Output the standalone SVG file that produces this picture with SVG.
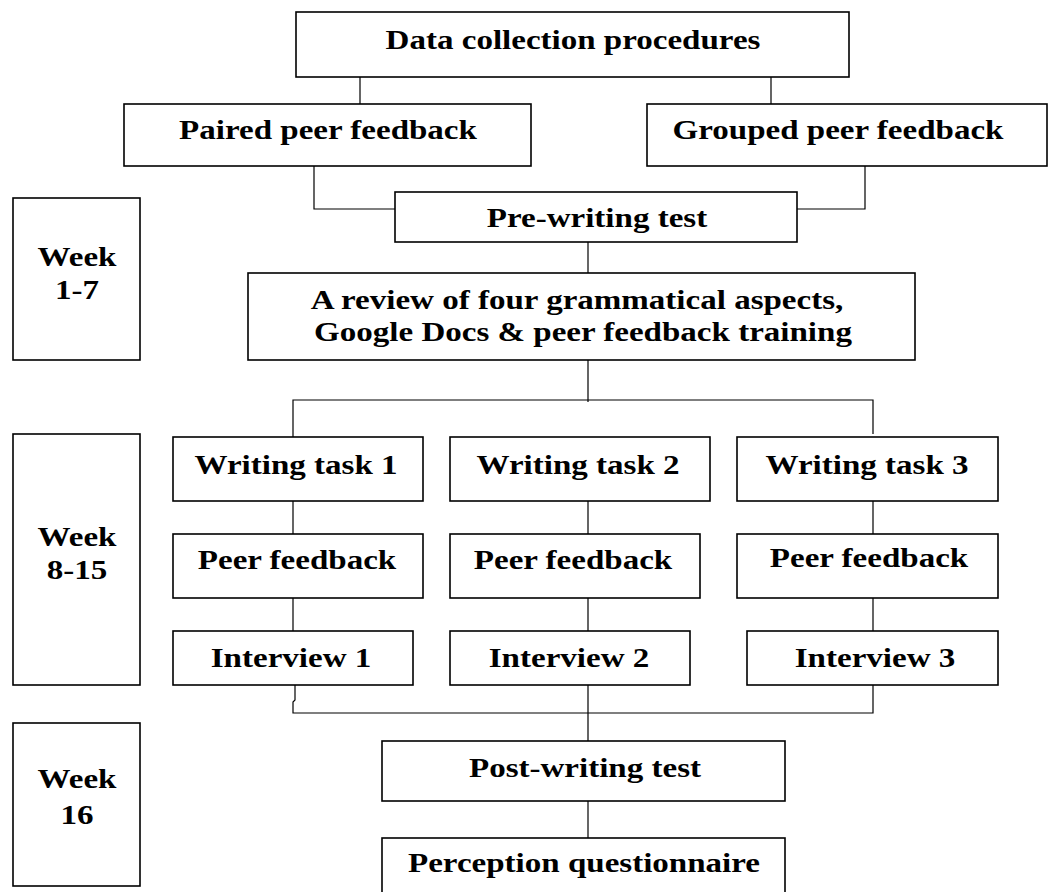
<svg xmlns="http://www.w3.org/2000/svg" width="1048" height="892" viewBox="0 0 1048 892">
<style>
rect{fill:#fff;stroke:#000;stroke-width:1.6}
text{font-family:"Liberation Serif","Times New Roman",serif;font-weight:bold;font-size:28px;text-anchor:middle;fill:#000}
.c path{fill:none;stroke:#000;stroke-width:1.2}
</style>
<rect x="0" y="0" width="1048" height="892" style="stroke:none"/>
<g class="c" id="connectors">
<path d="M360 77V104M771 77V104"/>
<path d="M314 166V209H395M865 166V209H797"/>
<path d="M588 242V273"/>
<path d="M588 360V402M293 437V400H873V434"/>
<path d="M293 501V534M588 501V534M873 501V534"/>
<path d="M293 598V631M588 598V631M873 598V631"/>
<path d="M295 685V700L293 702V713H873V685M588 685V741"/>
<path d="M588 801V838"/>
</g>
<g id="n-data"><rect x="296" y="12" width="553" height="65"/><text transform="translate(573 49) scale(1.18 1)">Data collection procedures</text></g>
<g id="n-paired"><rect x="124" y="104" width="407" height="62"/><text transform="translate(328 139) scale(1.18 1)">Paired peer feedback</text></g>
<g id="n-grouped"><rect x="647" y="104" width="400" height="62"/><text transform="translate(838 139) scale(1.18 1)">Grouped peer feedback</text></g>
<g id="n-pre"><rect x="395" y="192" width="402" height="50"/><text transform="translate(597 227) scale(1.18 1)">Pre-writing test</text></g>
<g id="n-week1"><rect x="13" y="198" width="127" height="162"/><text transform="translate(77 266) scale(1.18 1)">Week</text><text transform="translate(77 299) scale(1.18 1)">1-7</text></g>
<g id="n-review"><rect x="248" y="273" width="667" height="87"/><text transform="translate(577 309) scale(1.18 1)">A review of four grammatical aspects,</text><text transform="translate(583 341) scale(1.18 1)">Google Docs &amp; peer feedback training</text></g>
<g id="n-week2"><rect x="13" y="434" width="127" height="251"/><text transform="translate(77 546) scale(1.18 1)">Week</text><text transform="translate(77 579) scale(1.18 1)">8-15</text></g>
<g id="n-wt1"><rect x="173" y="437" width="250" height="64"/><text transform="translate(296 474) scale(1.18 1)">Writing task 1</text></g>
<g id="n-wt2"><rect x="450" y="437" width="260" height="64"/><text transform="translate(578 474) scale(1.18 1)">Writing task 2</text></g>
<g id="n-wt3"><rect x="737" y="437" width="261" height="64"/><text transform="translate(867 474) scale(1.18 1)">Writing task 3</text></g>
<g id="n-pf1"><rect x="173" y="534" width="250" height="64"/><text transform="translate(297 569) scale(1.18 1)">Peer feedback</text></g>
<g id="n-pf2"><rect x="450" y="534" width="250" height="64"/><text transform="translate(573 569) scale(1.18 1)">Peer feedback</text></g>
<g id="n-pf3"><rect x="737" y="534" width="261" height="64"/><text transform="translate(869 567) scale(1.18 1)">Peer feedback</text></g>
<g id="n-int1"><rect x="173" y="631" width="240" height="54"/><text transform="translate(291 667) scale(1.18 1)">Interview 1</text></g>
<g id="n-int2"><rect x="450" y="631" width="240" height="54"/><text transform="translate(569 667) scale(1.18 1)">Interview 2</text></g>
<g id="n-int3"><rect x="747" y="631" width="251" height="54"/><text transform="translate(875 667) scale(1.18 1)">Interview 3</text></g>
<g id="n-week3"><rect x="13" y="723" width="127" height="163"/><text transform="translate(77 788) scale(1.18 1)">Week</text><text transform="translate(77 824) scale(1.18 1)">16</text></g>
<g id="n-post"><rect x="382" y="741" width="403" height="60"/><text transform="translate(585 777) scale(1.18 1)">Post-writing test</text></g>
<g id="n-perc"><rect x="382" y="838" width="403" height="70"/><text transform="translate(584 872) scale(1.18 1)">Perception questionnaire</text></g>
</svg>
